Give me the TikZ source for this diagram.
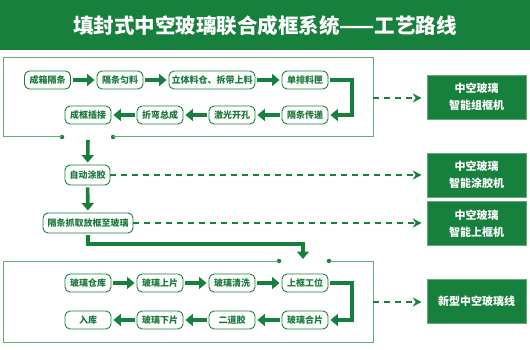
\documentclass[tikz,border=0pt]{standalone}
\usepackage{fontspec}
\newfontfamily\cjk{Noto Sans CJK SC}
\usetikzlibrary{arrows.meta}
\definecolor{gdark}{RGB}{22,128,60}
\definecolor{gtext}{RGB}{26,122,58}
\definecolor{gline}{RGB}{96,170,118}
\tikzset{
  proc/.style={draw=gdark, line width=0.9pt, rounded corners=5pt, fill=white,
    minimum height=18pt, minimum width=46pt, inner xsep=4pt, inner ysep=2pt,
    font=\cjk\bfseries\fontsize{9}{10}\selectfont, text=gtext},
  tallproc/.style={proc, minimum height=20pt},
  machine/.style={fill=gdark, draw=gline, line width=0.6pt, minimum width=99pt,
    minimum height=44pt, align=center, text=white,
    font=\cjk\bfseries\fontsize{11}{17}\selectfont},
  flow/.style={draw=gdark, line width=3.6pt, line join=miter,
    -{Triangle[length=7.5pt,width=12pt]}, shorten >=2pt, shorten <=2pt},
  link/.style={draw=gdark, line width=1.4pt, dash pattern=on 6pt off 5pt,
    -{Stealth[length=9pt,width=9pt,inset=3pt]}, shorten >=5pt},
  frame/.style={draw=gline, line width=1pt},
  joint/.style={fill=gdark, draw=none, circle, inner sep=0pt, minimum size=4.5pt},
}
\begin{document}
\begin{tikzpicture}[x=1pt,y=-1pt]
\useasboundingbox (0,0) rectangle (530,350);
% title band
\fill[gdark] (0,0) rectangle (530,50);
\node[text=white, font=\cjk\bfseries\fontsize{20.5}{22}\selectfont] (title) at (265,26) {填封式中空玻璃联合成框系统——工艺路线};

% top group frame
\node[joint] (t1) at (62,137) {};
\node[joint] (t2) at (113,137) {};
\coordinate (tfr) at (373,98);
\draw[frame] (t1.center) -- (3,137) -- (3,58) -- (373,58) -- (373,137) -- (t2.center);

% row 1
\node[proc] (a1) at (47.5,80) {成箱隔条};
\node[proc] (a2) at (120,80) {隔条匀料};
\node[proc, minimum width=86pt, inner xsep=2pt] (a3) at (212,80) {立体料仓、拆带上料};
\node[proc] (a4) at (305,80) {单排料匣};
% row 2
\node[proc] (b4) at (305,115) {隔条传递};
\node[proc] (b3) at (232,115) {激光开孔};
\node[proc] (b2) at (160,115) {折弯总成};
\node[proc] (b1) at (88,115) {成框插接};

\draw[flow] (a1) -- (a2);
\draw[flow] (a2) -- (a3);
\draw[flow] (a3) -- (a4);
\draw[flow] (a4.east) -- (352,80) -- (352,115) -- (b4.east);
\draw[flow] (b4) -- (b3);
\draw[flow] (b3) -- (b2);
\draw[flow] (b2) -- (b1);

% middle
\coordinate (tout) at (88,138);
\node[tallproc, minimum width=45pt] (c1) at (87.5,175) {自动涂胶};
\node[tallproc, minimum width=90pt, inner xsep=3pt] (c2) at (88,223) {隔条抓取放框至玻璃};
\draw[flow] (tout) -- (c1);
\draw[flow] (c1) -- (c2);

% bottom group frame
\node[joint] (u1) at (279,261) {};
\node[joint] (u2) at (329,261) {};
\coordinate (bfr) at (373,302);
\coordinate (bin) at (303,260);
\draw[frame] (u1.center) -- (3,261) -- (3,342) -- (373,342) -- (373,261) -- (u2.center);
\draw[flow, shorten >=1pt] (c2.south) -- (88,244) -- (303,244) -- (bin);

% row 3
\node[proc] (d1) at (88,283) {玻璃仓库};
\node[proc] (d2) at (160,283) {玻璃上片};
\node[proc] (d3) at (232,283) {玻璃清洗};
\node[proc] (d4) at (305,283) {上框工位};
% row 4
\node[proc] (e4) at (305,320) {玻璃合片};
\node[proc] (e3) at (232,320) {二道胶};
\node[proc] (e2) at (160,320) {玻璃下片};
\node[proc] (e1) at (88,320) {入库};

\draw[flow] (d1) -- (d2);
\draw[flow] (d2) -- (d3);
\draw[flow] (d3) -- (d4);
\draw[flow] (d4.east) -- (352,283) -- (352,320) -- (e4.east);
\draw[flow] (e4) -- (e3);
\draw[flow] (e3) -- (e2);
\draw[flow] (e2) -- (e1);

% machines
\node[machine] (m1) at (476.5,97) {中空玻璃\\智能组框机};
\node[machine] (m2) at (476.5,175) {中空玻璃\\智能涂胶机};
\node[machine] (m3) at (476.5,223.5) {中空玻璃\\智能上框机};
\node[machine] (m4) at (476.5,301.5) {新型中空玻璃线};

\draw[link] (tfr) -- (tfr -| m1.west);
\draw[link] (c1.east) -- (c1.east -| m2.west);
\draw[link] (c2.east) -- (c2.east -| m3.west);
\draw[link] (bfr) -- (bfr -| m4.west);
\end{tikzpicture}
\end{document}
